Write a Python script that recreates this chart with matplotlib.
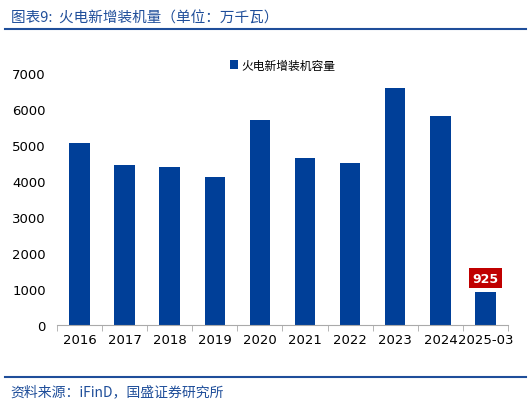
import matplotlib
matplotlib.use("Agg")
import matplotlib.pyplot as plt
from matplotlib.lines import Line2D

plt.rcParams['font.family'] = ['Noto Sans CJK SC', 'DejaVu Sans']

categories = ['2016','2017','2018','2019','2020','2021','2022','2023','2024','2025-03']
values = [5075, 4460, 4400, 4120, 5710, 4650, 4500, 6600, 5800, 925]
series_name = '火电新增装机容量'
yticks = [0,1000,2000,3000,4000,5000,6000,7000]

fig = plt.figure(figsize=(5.31,4.06), dpi=100)
ax = fig.add_axes([0.107, 0.197, 0.85, 0.62])
x = range(len(categories))
ax.bar(x, values, width=0.45, color='#003f98', label=series_name)
ax.set_xlim(-0.5, len(categories)-0.5)
ax.set_ylim(0, 7000)
ax.set_yticks(yticks)
ax.set_xticks(list(x))
ax.set_xticklabels(categories, fontsize=9.5, family=['DejaVu Sans'])
for t in ax.get_yticklabels():
    t.set_fontsize(9.5); t.set_family(['DejaVu Sans'])
ax.set_xticks([i+0.5 for i in range(-1, len(categories))], minor=True)
ax.tick_params(axis='x', which='major', length=0, pad=6)
ax.tick_params(axis='x', which='minor', length=4, color='#aaaaaa')
ax.tick_params(axis='y', length=0, pad=8)
for s in ['top','right','left']:
    ax.spines[s].set_visible(False)
ax.spines['bottom'].set_color('#aaaaaa')
ax.text(x[-1], values[-1]+380, str(values[-1]), ha='center', va='center', color='white',
        fontsize=9, fontweight='bold', family=['DejaVu Sans'],
        bbox=dict(boxstyle='square,pad=0.25', fc='#c00000', ec='none'))
leg = ax.legend(loc='upper center', bbox_to_anchor=(0.5, 1.1), frameon=False, fontsize=8.5,
                handlelength=0.7, handleheight=0.7, handletextpad=0.3)

fig.text(0.02, 0.955, '图表9:  火电新增装机量（单位：万千瓦）', fontsize=10.5, color='#1f4e9a',
         style='italic', va='center')
fig.add_artist(Line2D([0.01, 0.99], [0.925, 0.925], color='#1f4e9a', lw=1.5, transform=fig.transFigure))
fig.add_artist(Line2D([0.01, 0.99], [0.068, 0.068], color='#1f4e9a', lw=1.5, transform=fig.transFigure))
fig.text(0.02, 0.035, '资料来源：iFinD，国盛证券研究所', fontsize=10, color='#1f4e9a',
         style='italic', va='center')
fig.savefig('out.png', dpi=100)
